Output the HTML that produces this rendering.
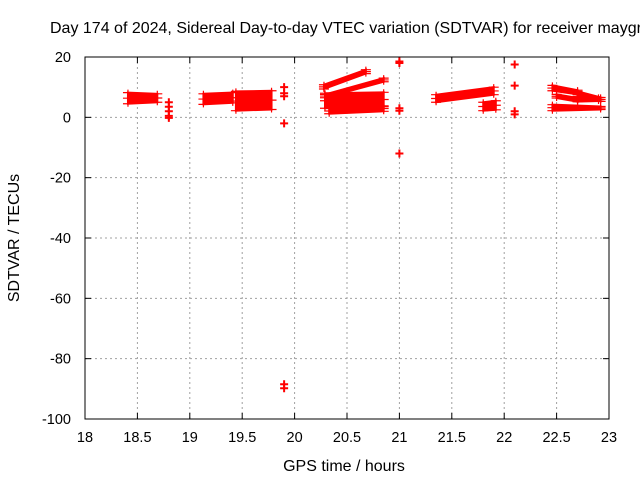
<!DOCTYPE html>
<html><head><meta charset="utf-8"><style>
body{margin:0;background:#fff}
svg{display:block;font-family:"Liberation Sans",sans-serif}
</style></head><body>
<svg id="chart" width="640" height="480" viewBox="0 0 640 480"></svg>
<script>
const xTicks=[18,18.5,19,19.5,20,20.5,21,21.5,22,22.5,23];
const xTickLabels=["18","18.5","19","19.5","20","20.5","21","21.5","22","22.5","23"];
const yTicks=[20,0,-20,-40,-60,-80,-100];
const yTickLabels=["20","0","-20","-40","-60","-80","-100"];
// bands: [t0, t1, lo0, hi0, lo1, hi1]
const bands=[
[18.41,18.69,4.5,8.2,5,7.8],
[19.13,19.41,4.3,7.8,4.8,8.2],
[19.44,19.78,2.2,8.6,2.6,8.8],
[20.29,20.85,3,8,3.5,8.3],
[20.33,20.85,1.2,3,2,3.8],
[20.28,20.68,9.4,10.8,14.5,15.8],
[20.29,20.85,6.5,7.6,11.8,13],
[21.35,21.9,5,7.5,7.5,10],
[21.8,21.92,2.2,5,2.5,5.5],
[22.46,22.92,2.2,4.2,2.6,3.6],
[22.46,22.7,8.8,10.6,7.6,9],
[22.7,22.92,7,8.6,5.3,6.6],
[22.5,22.7,6.4,7.6,5.2,6.4],
[22.7,22.9,5.2,6.4,5.4,6.6]
];
const ptT=[18.8,18.8,18.8,18.8,18.8,19.9,19.9,19.9,19.9,19.9,19.9,21.0,21.0,21.0,21.0,21.0,22.1,22.1,22.1,22.1];
const ptV=[5,3.5,2,0.5,-0.2,10,8,7,-2,-88.5,-89.8,18.5,18,3,2.2,-12,17.5,10.5,2,1];
const L=85,R=609,T=57,B=419;
const sx=t=>L+(t-18)/5*(R-L);
const sy=v=>T+(20-v)/120*(B-T);
const svg=document.getElementById('chart');
const NS='http://www.w3.org/2000/svg';
function mk(tag,attrs,parent){const e=document.createElementNS(NS,tag);for(const k in attrs)e.setAttribute(k,attrs[k]);(parent||svg).appendChild(e);return e;}
xTicks.forEach((t,i)=>{
 if(i>0&&i<xTicks.length-1){const g=mk('line',{x1:sx(t),x2:sx(t),y1:T,y2:B,stroke:'#a0a0a0','stroke-dasharray':'2,3'});
 
 }
 mk('line',{x1:sx(t),x2:sx(t),y1:B,y2:B-6,stroke:'#000'});
 mk('line',{x1:sx(t),x2:sx(t),y1:T,y2:T+6,stroke:'#000'});
 const tx=mk('text',{x:sx(t),y:442,'font-size':14.5,'text-anchor':'middle'});tx.textContent=xTickLabels[i];
 
 
});
yTicks.forEach((v,i)=>{
 if(i>0&&i<yTicks.length-1){const g=mk('line',{x1:L,x2:R,y1:sy(v),y2:sy(v),stroke:'#a0a0a0','stroke-dasharray':'2,3'});
 
 }
 mk('line',{x1:L,x2:L+6,y1:sy(v),y2:sy(v),stroke:'#000'});
 mk('line',{x1:R,x2:R-6,y1:sy(v),y2:sy(v),stroke:'#000'});
 const tx=mk('text',{x:71,y:sy(v)+5,'font-size':14.5,'text-anchor':'end'});tx.textContent=yTickLabels[i];
 
 
});
bands.forEach(b=>{
 const [t0,t1,l0,h0,l1,h1]=b;
 const p=mk('polygon',{points:`${sx(t0)},${sy(h0)} ${sx(t1)},${sy(h1)} ${sx(t1)},${sy(l1)} ${sx(t0)},${sy(l0)}`,fill:'#f00',stroke:'#f00','stroke-width':2});
 
 
 [[t0,l0],[t0,h0],[t1,l1],[t1,h1],[t0,(l0+h0)/2],[t1,(l1+h1)/2]].forEach(q=>{
  mk('path',{d:`M${sx(q[0])-5},${sy(q[1])}h10M${sx(q[0])},${sy(q[1])-3}v6`,stroke:'#f00','stroke-width':1.2});
 });
});
ptT.forEach((t,i)=>{
 const p=mk('path',{d:`M${sx(t)-4},${sy(ptV[i])}h8M${sx(t)},${sy(ptV[i])-4}v8`,stroke:'#f00','stroke-width':2});
 
 
});
const fr=mk('rect',{x:L,y:T,width:R-L,height:B-T,fill:'none',stroke:'#000','stroke-width':1});


const ti=mk('text',{x:50,y:33,'font-size':16});ti.textContent='Day 174 of 2024, Sidereal Day-to-day VTEC variation (SDTVAR) for receiver maygr';


const xl=mk('text',{x:344,y:471,'font-size':16,'text-anchor':'middle'});xl.textContent='GPS time / hours';


const yl=mk('text',{x:0,y:0,'font-size':16,'text-anchor':'middle',transform:'translate(19,238) rotate(-90)'});yl.textContent='SDTVAR / TECUs';


</script>
</body></html>
